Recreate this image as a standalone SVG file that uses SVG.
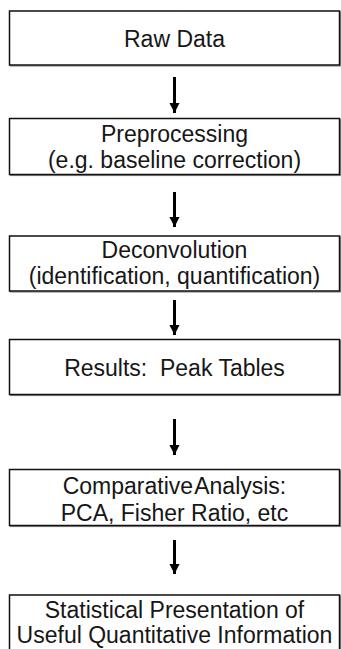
<svg xmlns="http://www.w3.org/2000/svg" width="341" height="649" viewBox="0 0 341 649">
  <style>
    .box { fill: #ffffff; stroke: #111111; stroke-width: 1.5; }
    .shadow { fill: none; stroke: #8a8a8a; stroke-width: 1.2; }
    .lbl { font-family: "Liberation Sans", Arial, sans-serif; font-size: 23px; fill: #161616; text-anchor: middle; white-space: pre; }
    .conn { stroke: #000000; stroke-width: 3; fill: none; }
  </style>
  <defs>
    <marker id="arr" markerUnits="userSpaceOnUse" markerWidth="12" markerHeight="11" refX="11" refY="6" orient="auto" viewBox="0 0 12 12">
      <polygon points="0,0.5 11,6 0,11.5" fill="#000000"/>
    </marker>
  </defs>
  <rect width="341" height="649" fill="#ffffff"/>

  <g id="connectors">
    <line class="conn" x1="174.5" y1="77" x2="174.5" y2="113" marker-end="url(#arr)"/>
    <line class="conn" x1="174.5" y1="192" x2="174.5" y2="227" marker-end="url(#arr)"/>
    <line class="conn" x1="174.5" y1="300" x2="174.5" y2="335" marker-end="url(#arr)"/>
    <line class="conn" x1="174.5" y1="419" x2="174.5" y2="455" marker-end="url(#arr)"/>
    <line class="conn" x1="174.5" y1="540" x2="174.5" y2="574" marker-end="url(#arr)"/>
  </g>

  <g id="raw-data">
    <rect class="shadow" x="10.5" y="12" width="330" height="54"/>
    <rect class="box" x="9.5" y="11" width="330" height="54"/>
    <text class="lbl" x="174.5" y="47">Raw Data</text>
  </g>

  <g id="preprocessing">
    <rect class="shadow" x="10.5" y="119.5" width="330" height="56"/>
    <rect class="box" x="9.5" y="118.5" width="330" height="56"/>
    <text class="lbl" x="174.5" y="142">Preprocessing</text>
    <text class="lbl" x="174.5" y="168">(e.g. baseline correction)</text>
  </g>

  <g id="deconvolution">
    <rect class="shadow" x="10.5" y="237" width="330" height="55"/>
    <rect class="box" x="9.5" y="236" width="330" height="55"/>
    <text class="lbl" x="174.5" y="258">Deconvolution</text>
    <text class="lbl" x="174.5" y="284">(identification, quantification)</text>
  </g>

  <g id="results">
    <rect class="shadow" x="10.5" y="340.5" width="330" height="55"/>
    <rect class="box" x="9.5" y="339.5" width="330" height="55"/>
    <text class="lbl" x="174.5" y="376">Results:  Peak Tables</text>
  </g>

  <g id="comparative-analysis">
    <rect class="shadow" x="10.5" y="470.5" width="330" height="56"/>
    <rect class="box" x="9.5" y="469.5" width="330" height="56"/>
    <text class="lbl" x="174.5" y="494" word-spacing="-4">Comparative Analysis:</text>
    <text class="lbl" x="174.5" y="520.5">PCA, Fisher Ratio, etc</text>
  </g>

  <g id="statistical-presentation">
    <rect class="shadow" x="10.5" y="596" width="330" height="70"/>
    <rect class="box" x="9.5" y="595" width="330" height="70"/>
    <text class="lbl" x="174.5" y="618">Statistical Presentation of</text>
    <text class="lbl" x="174.5" y="643">Useful Quantitative Information</text>
  </g>
</svg>
